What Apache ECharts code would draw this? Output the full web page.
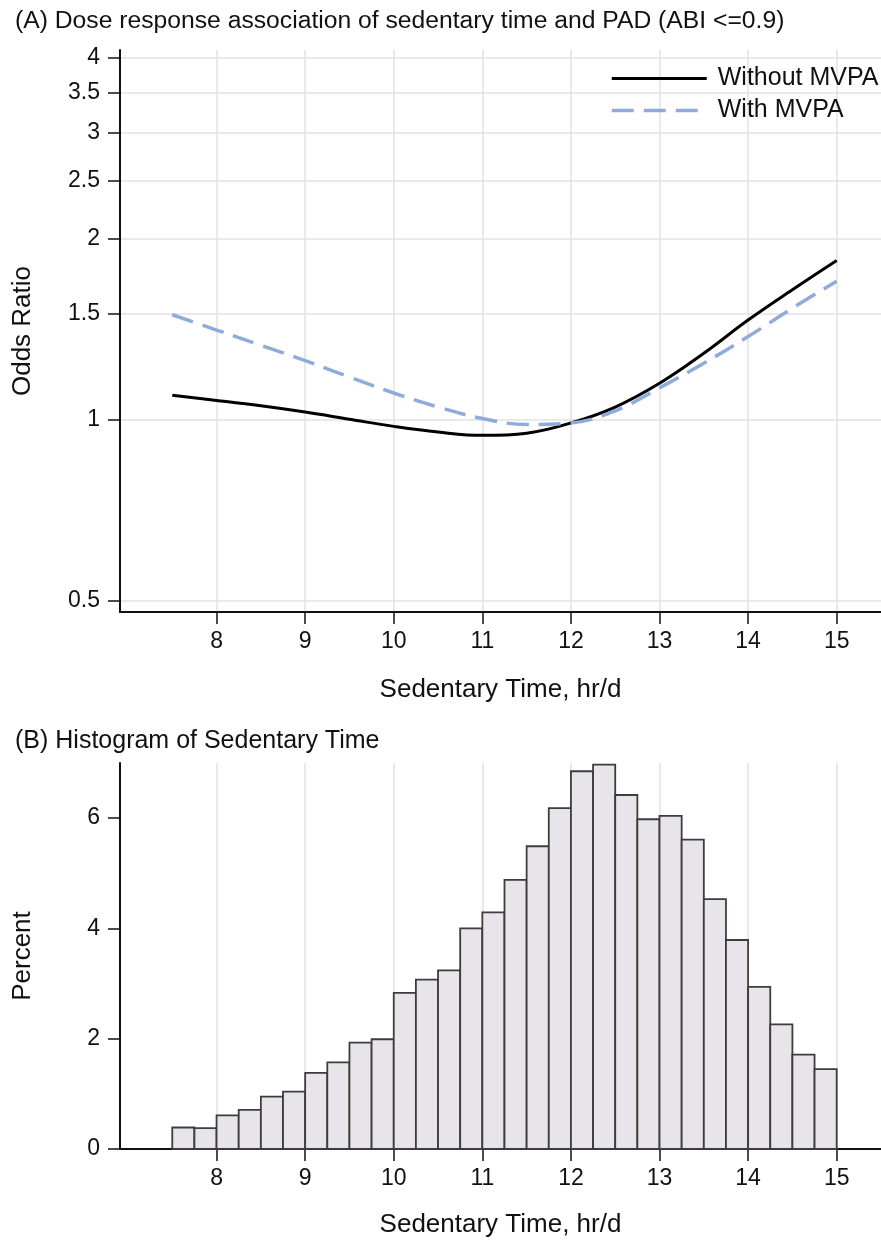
<!DOCTYPE html>
<html>
<head>
<meta charset="utf-8">
<script src="https://cdn.jsdelivr.net/npm/echarts@6/dist/echarts.min.js"></script>
<style>
html, body { margin: 0; padding: 0; background: #fff; }
#chart { width: 881px; height: 1243px; }
</style>
</head>
<body>
<div id="chart"></div>
<script>
// tick positions
var xTicks = [8, 9, 10, 11, 12, 13, 14, 15];
var orTicks = [0.5, 1, 1.5, 2, 2.5, 3, 3.5, 4];
var pctTicks = [0, 2, 4, 6];

// panel A: dose response curves
var curveX = [7.5, 8, 8.5, 9, 9.5, 10, 10.5, 11, 11.5, 12, 12.5, 13, 13.5, 14, 14.5, 15];
var orWithout = [1.098, 1.077, 1.055, 1.030, 1.002, 0.975, 0.954, 0.942, 0.950, 0.988, 1.050, 1.150, 1.290, 1.465, 1.645, 1.84];
var orWith = [1.495, 1.41, 1.33, 1.254, 1.178, 1.108, 1.05, 1.005, 0.982, 0.988, 1.035, 1.13, 1.242, 1.375, 1.533, 1.70];

// panel B: histogram bins
var binStart = [7.5, 7.75, 8, 8.25, 8.5, 8.75, 9, 9.25, 9.5, 9.75,
    10, 10.25, 10.5, 10.75, 11, 11.25, 11.5, 11.75, 12, 12.25,
    12.5, 12.75, 13, 13.25, 13.5, 13.75, 14, 14.25, 14.5, 14.75];
var binWidth = 0.25;
var binPercent = [0.39, 0.38, 0.61, 0.71, 0.95, 1.04, 1.38, 1.57, 1.93, 1.99,
    2.83, 3.07, 3.24, 4.0, 4.29, 4.88, 5.49, 6.18, 6.85, 6.97,
    6.42, 5.98, 6.04, 5.61, 4.53, 3.79, 2.94, 2.26, 1.71, 1.45];

var font = "'Liberation Sans', Arial, sans-serif";
var ink = '#111';
var gridColor = '#e2e2e2';
var blue = '#8FAADC';

function zip(xs, ys) {
    var out = [];
    for (var i = 0; i < xs.length; ++i) {
        out.push([xs[i], ys[i]]);
    }
    return out;
}

var binData = [];
for (var i = 0; i < binStart.length; ++i) {
    binData.push([binStart[i], binPercent[i]]);
}

function xAxisFor(gridIndex, gap) {
    return {
        type: 'value',
        gridIndex: gridIndex,
        min: 6.91,
        max: 15.5,
        name: 'Sedentary Time, hr/d',
        nameLocation: 'middle',
        nameGap: gap,
        nameTextStyle: {fontFamily: font, fontSize: 26, color: ink},
        axisLine: {show: true, onZero: false, lineStyle: {color: ink, width: 2}},
        axisTick: {show: true, customValues: xTicks, length: 12, lineStyle: {color: ink, width: 1.5}},
        axisLabel: {customValues: xTicks, margin: 18, fontFamily: font, fontSize: 23, color: ink},
        splitLine: {show: true, lineStyle: {color: gridColor, width: 1.5}}
    };
}

var chart = echarts.init(document.getElementById('chart'), null, {renderer: 'canvas'});

var option = {
    animation: false,
    backgroundColor: '#fff',
    title: [
        {
            text: '(A) Dose response association of sedentary time and PAD (ABI <=0.9)',
            left: 10, top: 4,
            textStyle: {fontFamily: font, fontSize: 24.7, fontWeight: 'normal', color: ink}
        },
        {
            text: '(B) Histogram of Sedentary Time',
            left: 10, top: 724,
            textStyle: {fontFamily: font, fontSize: 25, fontWeight: 'normal', color: ink}
        }
    ],
    legend: {
        data: [
            {name: 'Without MVPA', lineStyle: {width: 3, color: '#000'}},
            {name: 'With MVPA', lineStyle: {width: 3.5, color: blue, type: [22, 10]}}
        ],
        orient: 'vertical',
        left: 610,
        top: 66,
        padding: 0,
        itemWidth: 95,
        itemHeight: 20,
        itemGap: 7,
        itemStyle: {opacity: 0},
        textStyle: {fontFamily: font, fontSize: 25, color: ink, padding: [0, 0, 0, 6]}
    },
    grid: [
        {left: 120, top: 50, right: 0, height: 562, outerBoundsMode: 'none'},
        {left: 120, top: 763, right: 0, height: 386, outerBoundsMode: 'none'}
    ],
    xAxis: [xAxisFor(0, 65), xAxisFor(1, 63)],
    yAxis: [
        {
            type: 'log',
            logBase: 2,
            gridIndex: 0,
            min: 0.479,
            max: 4.12,
            name: 'Odds Ratio',
            nameLocation: 'middle',
            nameGap: 84,
            nameTextStyle: {fontFamily: font, fontSize: 26, color: ink},
            axisLine: {show: true, lineStyle: {color: ink, width: 2}},
            axisTick: {show: true, customValues: orTicks, length: 12, lineStyle: {color: ink, width: 1.5}},
            axisLabel: {
                customValues: orTicks, margin: 20, fontFamily: font, fontSize: 23, color: ink,
                formatter: function (v) { return String(Math.round(v * 10) / 10); }
            },
            splitLine: {show: true, lineStyle: {color: gridColor, width: 1.5}}
        },
        {
            type: 'value',
            gridIndex: 1,
            min: 0,
            max: 7,
            name: 'Percent',
            nameLocation: 'middle',
            nameGap: 84,
            nameTextStyle: {fontFamily: font, fontSize: 26, color: ink},
            axisLine: {show: true, lineStyle: {color: ink, width: 2}},
            axisTick: {show: true, customValues: pctTicks, length: 12, lineStyle: {color: ink, width: 1.5}},
            axisLabel: {customValues: pctTicks, margin: 20, fontFamily: font, fontSize: 23, color: ink},
            splitLine: {show: false}
        }
    ],
    series: [
        {
            name: 'Without MVPA',
            type: 'line',
            xAxisIndex: 0,
            yAxisIndex: 0,
            smooth: 0.4,
            symbol: 'none',
            color: '#000',
            lineStyle: {color: '#000', width: 3},
            data: zip(curveX, orWithout)
        },
        {
            name: 'With MVPA',
            type: 'line',
            xAxisIndex: 0,
            yAxisIndex: 0,
            smooth: 0.4,
            symbol: 'none',
            color: blue,
            lineStyle: {color: blue, width: 3.5, type: [22, 10]},
            data: zip(curveX, orWith)
        },
        {
            name: 'Histogram',
            type: 'custom',
            xAxisIndex: 1,
            yAxisIndex: 1,
            encode: {x: 0, y: 1},
            data: binData,
            renderItem: function (params, api) {
                var x0 = api.value(0);
                var h = api.value(1);
                var topLeft = api.coord([x0, h]);
                var bottomRight = api.coord([x0 + binWidth, 0]);
                return {
                    type: 'rect',
                    shape: {
                        x: topLeft[0],
                        y: topLeft[1],
                        width: bottomRight[0] - topLeft[0],
                        height: bottomRight[1] - topLeft[1]
                    },
                    style: {fill: '#e7e5e9', stroke: '#3d3d3d', lineWidth: 1.8}
                };
            }
        }
    ]
};

chart.setOption(option);
</script>
</body>
</html>
